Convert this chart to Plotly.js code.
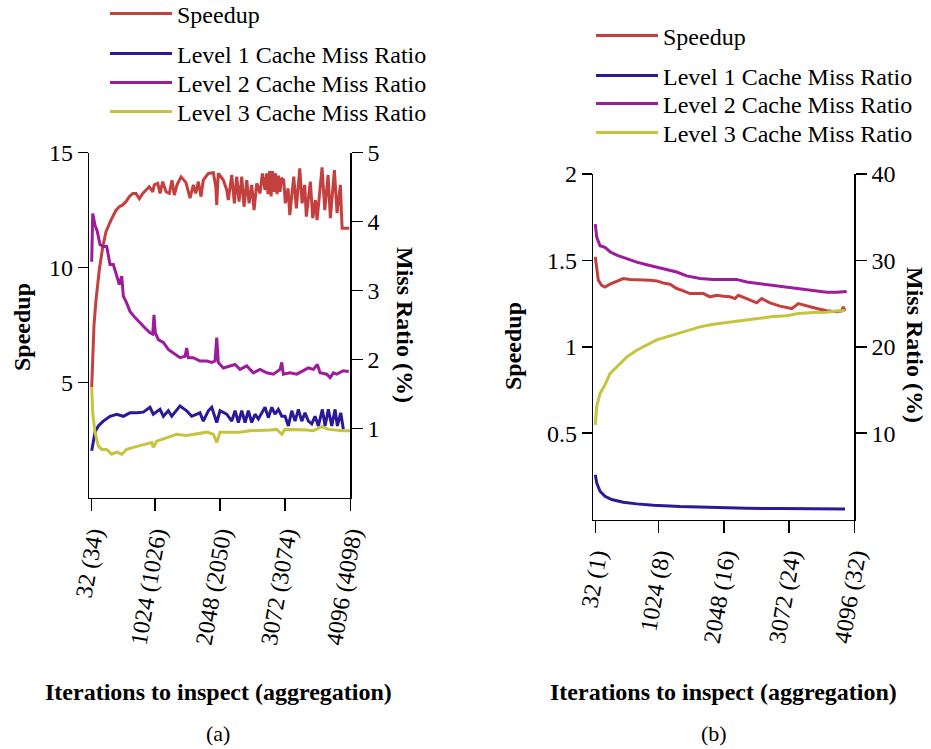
<!DOCTYPE html>
<html>
<head>
<meta charset="utf-8">
<script src="https://cdn.plot.ly/plotly-3.0.1.min.js"></script>
<style>html,body{margin:0;padding:0;background:#fff;}#chart{width:931px;height:749px;}</style>
</head>
<body>
<div id="chart"></div>
<script>
// ---------- Data: panel (a) ----------
const xTickVals = [32, 1024, 2048, 3072, 4096];
const xTickTextA = ['32 (34)', '1024 (1026)', '2048 (2050)', '3072 (3074)', '4096 (4098)'];
const xTickTextB = ['32 (1)', '1024 (8)', '2048 (16)', '3072 (24)', '4096 (32)'];

const speedupA_x = [32,45,68,100,151,205,257,335,414,466,519,571,623,677,728,780,834,886,937,991,1016,1070,1106,1148,1200,1252,1294,1330,1373,1436,1514,1577,1629,1667,1708,1750,1786,1865,1944,1983,1997,2010,2022,2101,2154,2179,2233,2274,2311,2348,2390,2426,2469,2505,2547,2583,2626,2678,2714,2756,2780,2803,2827,2851,2874,2898,2921,2945,2968,2992,3016,3050,3075,3118,3145,3207,3248,3302,3338,3380,3405,3468,3506,3547,3574,3652,3695,3747,3783,3846,3888,3940,3967,4080];
const speedupA_y = [4.8,6.2,7.5,8.6,9.9,10.9,11.57,12.07,12.5,12.65,12.73,12.87,13.09,13.23,13.23,13.0,13.23,13.38,13.52,13.3,13.6,13.67,13.23,13.74,13.3,13.23,13.8,13.16,13.6,13.95,13.7,13.02,13.6,13.23,13.74,13.09,13.81,14.1,14.13,13.5,12.73,13.5,14.1,13.81,13.38,12.94,14.03,12.8,13.96,12.87,13.96,12.65,13.81,12.8,13.6,12.5,13.67,13.23,14.1,13.38,14.1,13.2,14.2,13.1,14.2,13.3,14.1,13.2,14.0,13.3,13.9,13.81,12.8,13.45,12.29,13.96,12.58,14.32,12.8,13.6,12.22,13.74,12.15,12.94,12.07,14.36,12.5,14.03,12.15,14.24,12.37,13.6,11.71,11.71];

const l1A_x = [32,84,136,214,320,425,529,634,739,843,948,1000,1106,1158,1236,1290,1420,1525,1604,1734,1786,1865,1918,1997,2049,2154,2233,2285,2337,2390,2442,2494,2547,2599,2651,2704,2756,2808,2862,2913,2965,3019,3071,3123,3176,3228,3280,3333,3385,3437,3490,3542,3594,3657,3699,3751,3805,3857,3893,3946,3987];
const l1A_y = [0.68,0.95,1.04,1.11,1.18,1.21,1.18,1.23,1.23,1.24,1.31,1.21,1.28,1.18,1.26,1.18,1.33,1.26,1.18,1.23,1.11,1.26,1.31,1.09,1.26,1.21,1.11,1.26,1.09,1.26,1.09,1.26,1.09,1.21,1.14,1.23,1.31,1.16,1.31,1.21,1.28,1.18,1.18,1.04,1.26,1.11,1.28,1.11,1.23,1.11,1.07,1.18,1.04,1.28,1.04,1.28,1.04,1.28,1.04,1.23,0.99];

const l2A_x = [32,48,84,120,162,214,268,293,320,372,425,466,504,529,582,634,713,791,870,948,991,1011,1032,1079,1158,1236,1315,1420,1499,1525,1550,1629,1734,1840,1918,1970,1997,2022,2101,2206,2285,2363,2469,2572,2678,2783,2887,2992,3019,3044,3149,3255,3358,3437,3516,3578,3621,3726,3778,3830,3884,3987,4072];
const l2A_y = [3.42,4.12,3.95,3.86,3.67,3.64,3.64,3.52,3.38,3.38,3.21,3.09,3.21,2.92,2.82,2.70,2.61,2.53,2.46,2.39,2.37,2.65,2.39,2.29,2.25,2.15,2.10,2.03,2.05,2.17,2.03,2.03,1.98,1.98,1.96,1.98,2.32,1.96,1.88,1.91,1.93,1.86,1.91,1.81,1.86,1.81,1.79,1.86,1.96,1.79,1.81,1.79,1.84,1.88,1.86,1.93,1.81,1.79,1.74,1.81,1.79,1.84,1.83];

const l3A_x = [32,48,84,136,189,268,346,425,504,582,686,791,896,975,1000,1054,1211,1368,1525,1683,1840,1944,1997,2049,2206,2363,2520,2678,2835,2940,3019,3071,3255,3412,3516,3648,3751,3857,3987,4096];
const l3A_y = [1.60,1.23,0.95,0.75,0.70,0.70,0.63,0.66,0.63,0.70,0.73,0.75,0.78,0.80,0.73,0.82,0.87,0.92,0.90,0.92,0.95,0.92,0.80,0.95,0.95,0.95,0.97,0.97,0.98,0.99,0.92,0.99,0.99,0.98,0.97,1.03,0.99,0.98,0.97,0.97];

// ---------- Data: panel (b) ----------
const speedupB_x = [32,54,79,132,184,263,368,471,576,682,785,890,995,1099,1204,1309,1413,1518,1623,1727,1832,1937,2040,2145,2224,2276,2407,2564,2643,2773,2930,3114,3217,3349,3506,3663,3820,3898,3923,3950];
const speedupB_y = [1.52,1.44,1.385,1.356,1.346,1.362,1.381,1.395,1.39,1.389,1.389,1.385,1.381,1.369,1.362,1.337,1.323,1.308,1.308,1.308,1.289,1.298,1.292,1.289,1.279,1.298,1.279,1.254,1.279,1.254,1.235,1.221,1.25,1.235,1.221,1.208,1.202,1.208,1.231,1.208];

const l1B_x = [32,54,106,184,289,471,682,942,1361,1883,2407,2930,3452,3950];
const l1B_y = [5.19,4.23,3.27,2.69,2.31,2.0,1.81,1.65,1.5,1.38,1.3,1.27,1.23,1.23];

const l2B_x = [32,54,106,184,263,368,525,682,838,995,1152,1309,1466,1675,1883,2094,2250,2407,2616,2825,3035,3244,3452,3663,3820,3977];
const l2B_y = [34.2,32.7,31.7,31.5,31.0,30.6,30.2,29.8,29.5,29.2,28.9,28.65,28.2,27.9,27.8,27.8,27.8,27.5,27.3,27.1,26.85,26.7,26.5,26.3,26.3,26.4];

const l3B_x = [32,54,106,184,263,368,525,682,838,995,1152,1309,1466,1675,1883,2094,2250,2407,2616,2825,3035,3217,3452,3663,3820,3950];
const l3B_y = [10.96,13.07,14.6,15.6,16.9,17.7,18.8,19.6,20.2,20.8,21.15,21.5,21.85,22.3,22.6,22.8,22.9,23.1,23.3,23.5,23.6,23.85,23.96,24.0,24.15,24.2];

const names = ['Speedup', 'Level 1 Cache Miss Ratio', 'Level 2 Cache Miss Ratio', 'Level 3 Cache Miss Ratio'];
const colors = ['#c4403f', '#2a1a98', '#9c1c9c', '#c6c33e'];

// ---------- Build ----------
const W = 931, H = 749;
const px = v => v / W;
const py = v => (H - v) / H;
const FONT = "'Liberation Serif', 'Times New Roman', serif";

function tr(x, y, i, xa, ya, leg) {
  return {x: x, y: y, xaxis: xa, yaxis: ya, type: 'scatter', mode: 'lines', name: names[i],
          line: {color: colors[i], width: 3}, legend: leg, hoverinfo: 'skip'};
}
const data = [
  tr(speedupA_x, speedupA_y, 0, 'x', 'y', 'legend'),
  tr(l1A_x, l1A_y, 1, 'x', 'y2', 'legend2'),
  tr(l2A_x, l2A_y, 2, 'x', 'y2', 'legend3'),
  tr(l3A_x, l3A_y, 3, 'x', 'y2', 'legend4'),
  tr(speedupB_x, speedupB_y, 0, 'x2', 'y3', 'legend5'),
  tr(l1B_x, l1B_y, 1, 'x2', 'y4', 'legend6'),
  tr(l2B_x, l2B_y, 2, 'x2', 'y4', 'legend7'),
  tr(l3B_x, l3B_y, 3, 'x2', 'y4', 'legend8')
];

const axCommon = {showgrid: false, zeroline: false, showline: true, linecolor: 'black', linewidth: 1.5,
  ticks: 'outside', tickcolor: 'black', tickwidth: 1.5, tickfont: {family: FONT, size: 24, color: 'black'},
  fixedrange: true, automargin: false};

function xa(dom, rng, text, anchor) {
  return Object.assign({}, axCommon, {domain: dom, range: rng, anchor: anchor, tickmode: 'array',
    tickvals: xTickVals, ticktext: text, tickangle: -80, ticklen: 12});
}
function ya(dom, rng, vals, anchor, side, overlay) {
  const o = Object.assign({}, axCommon, {domain: dom, range: rng, anchor: anchor, side: side,
    tickmode: 'array', tickvals: vals, ticktext: vals.map(String), ticklen: side === 'right' ? 11 : 10});
  if (overlay) o.overlaying = overlay;
  return o;
}

function leg(x, y) {
  return {x: px(x), y: py(y), xanchor: 'left', yanchor: 'middle', bgcolor: 'rgba(0,0,0,0)',
    borderwidth: 0, font: {family: FONT, size: 24, color: 'black'}, itemwidth: 62, orientation: 'v'};
}

function ann(text, x, y, angle, size) {
  return {text: text, x: px(x), y: py(y), xref: 'paper', yref: 'paper', showarrow: false,
    textangle: angle || 0, font: {family: FONT, size: size || 24, color: 'black'},
    xanchor: 'center', yanchor: 'middle'};
}

const layout = {
  width: W, height: H,
  margin: {l: 0, r: 0, t: 0, b: 0, autoexpand: false},
  paper_bgcolor: 'white', plot_bgcolor: 'rgba(0,0,0,0)',
  font: {family: FONT, size: 24, color: 'black'},
  showlegend: true,
  xaxis: xa([px(89.3), px(350.3)], [-5.7, 4096], xTickTextA, 'y'),
  yaxis: ya([py(497.7), py(152.7)], [0, 15], [5, 10, 15], 'x', 'left'),
  yaxis2: ya([py(497.7), py(152.7)], [0, 5], [1, 2, 3, 4, 5], 'x', 'right', 'y'),
  xaxis2: xa([px(593.3), px(854.3)], [0.6, 4096], xTickTextB, 'y3'),
  yaxis3: ya([py(519.5), py(174)], [0, 2], [0.5, 1, 1.5, 2], 'x2', 'left'),
  yaxis4: ya([py(519.5), py(174)], [0, 40], [10, 20, 30, 40], 'x2', 'right', 'y3'),
  legend: leg(105, 14),
  legend2: leg(105, 54),
  legend3: leg(105, 83),
  legend4: leg(105, 112),
  legend5: leg(591, 36),
  legend6: leg(591, 76),
  legend7: leg(591, 104),
  legend8: leg(591, 133),
  annotations: [
    ann('<b>Speedup</b>', 22, 327, -90),
    ann('<b>Miss Ratio (%)</b>', 405, 325, 90),
    ann('<b>Speedup</b>', 513, 346, -90),
    ann('<b>Miss Ratio (%)</b>', 915, 345, 90),
    ann('<b>Iterations to inspect (aggregation)</b>', 218.5, 692, 0),
    ann('<b>Iterations to inspect (aggregation)</b>', 723, 692, 0),
    ann('(a)', 218, 733, 0, 22),
    ann('(b)', 714, 733, 0, 22)
  ]
};

Plotly.newPlot('chart', data, layout, {staticPlot: true, displayModeBar: false});
</script>
</body>
</html>
